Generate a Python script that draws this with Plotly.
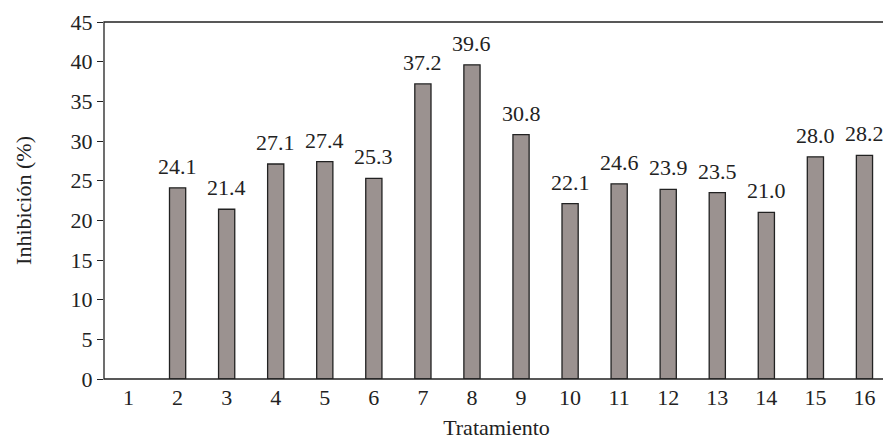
import plotly.graph_objects as go

categories = list(range(1, 17))
values = [None, 24.1, 21.4, 27.1, 27.4, 25.3, 37.2, 39.6, 30.8, 22.1, 24.6, 23.9, 23.5, 21.0, 28.0, 28.2]
labels = ["" if v is None else f"{v:.1f}" for v in values]
y_ticks = list(range(0, 50, 5))

font = "Liberation Serif, Times New Roman, serif"
ink = "#222"
fs = 22

fig = go.Figure(go.Bar(
    x=categories, y=values, cliponaxis=False,
    marker=dict(color="#9b9290", line=dict(color=ink, width=1.3)),
    width=0.33, hoverinfo="x+y",
))
annotations = [
    dict(x=c, y=v, xref="x", yref="y", text=t, showarrow=False, xanchor="center",
         yanchor="bottom", yshift=7, font=dict(family=font, size=fs, color=ink))
    for c, v, t in zip(categories, values, labels) if v is not None
]
fig.update_layout(
    width=883, height=432, margin=dict(l=96, r=2, t=14, b=61),
    plot_bgcolor="white", paper_bgcolor="white",
    font=dict(family=font, size=fs, color=ink),
    showlegend=False,
    annotations=annotations,
    shapes=[dict(type="rect", xref="paper", yref="paper", x0=0, x1=1, y0=0, y1=1,
                 line=dict(color=ink, width=1.3), fillcolor="rgba(0,0,0,0)", layer="above")],
)
fig.update_xaxes(
    range=[0.5, 16.5], tickvals=categories, showline=False, ticks="", showgrid=False,
    zeroline=False, automargin=False, tickfont=dict(size=fs), ticklabelstandoff=3,
    title=dict(text="Tratamiento", font=dict(size=fs), standoff=11),
)
fig.update_yaxes(
    range=[0, 45], tickvals=y_ticks, showline=False,
    ticks="outside", ticklen=6, tickcolor=ink, tickwidth=1.3, showgrid=False,
    zeroline=False, automargin=False, tickfont=dict(size=fs),
    title=dict(text="Inhibición (%)", font=dict(size=fs), standoff=32),
)
fig.write_html("out.html")
